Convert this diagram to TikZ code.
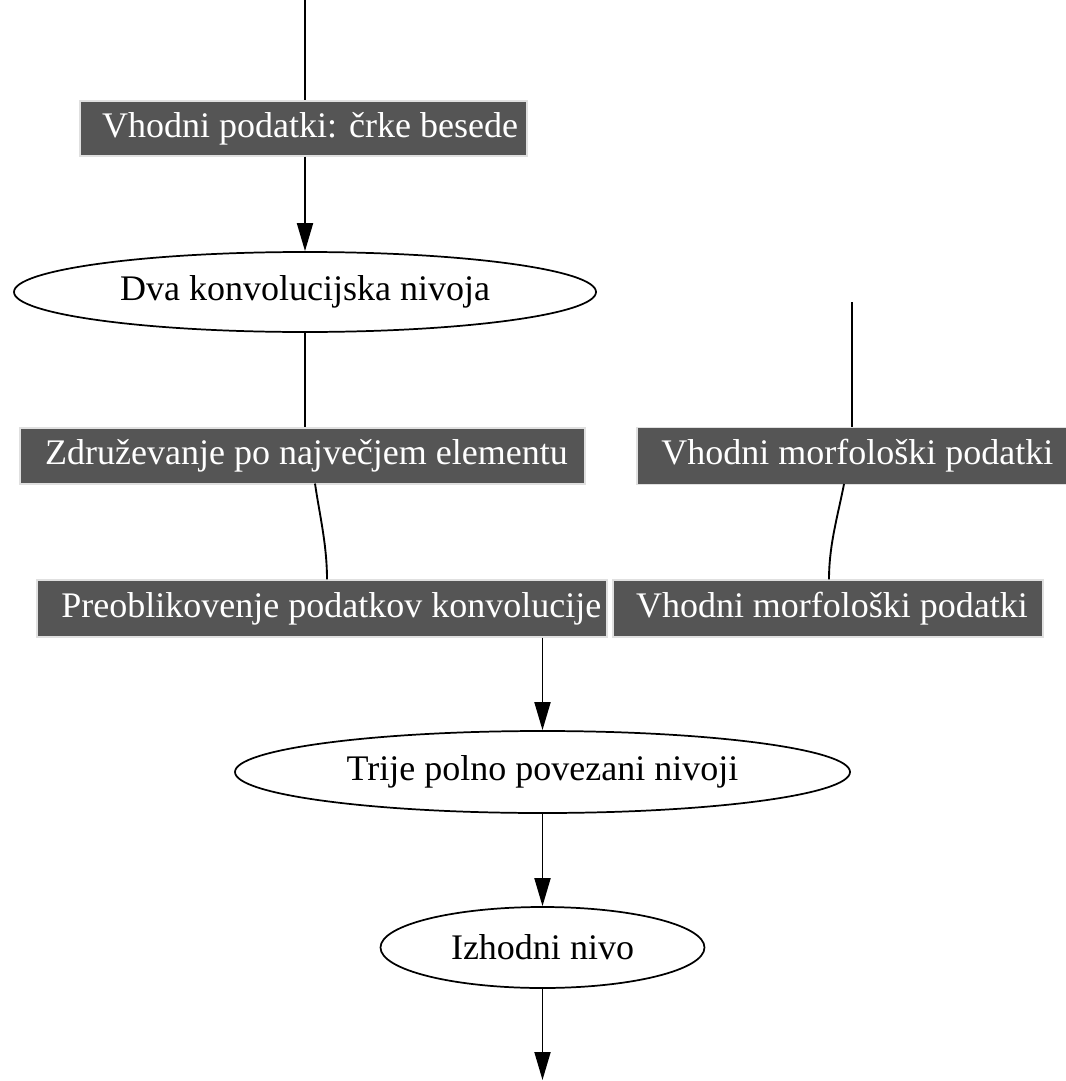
\documentclass[tikz,border=0pt]{standalone}
\usepackage{fontspec}
\setmainfont{Liberation Serif}
\usetikzlibrary{arrows.meta,shapes.geometric,calc}
\tikzset{
  darkbox/.style={rectangle, fill={rgb,255:red,85;green,85;blue,85}, draw=black!12, line width=0.8pt,
    text=white, inner sep=0pt, font=\fontsize{27}{31}\selectfont},
  oval/.style={ellipse, draw=black, line width=1.3pt, fill=white, inner sep=0pt,
    text=black, font=\fontsize{27}{31}\selectfont},
  conn/.style={line width=1.4pt, draw=black},
  arr/.style={conn, -{Triangle[length=21pt,width=12pt]}},
}
\begin{document}
\begin{tikzpicture}[x=0.75pt,y=-0.75pt]
\useasboundingbox (0,0) rectangle (1066,1081);
% nodes
\node[darkbox, minimum width=447*0.75pt, minimum height=55*0.75pt] (b1) at (303.5,128.5) {\hspace*{10pt}Vhodni podatki: črke besede};
\node[oval, minimum width=582*0.75pt, minimum height=80*0.75pt] (e1) at (305,292) {Dva konvolucijska nivoja};
\node[darkbox, minimum width=565*0.75pt, minimum height=56*0.75pt] (b2) at (302.5,456) {\hspace*{6pt}Združevanje po največjem elementu};
\node[darkbox, minimum width=570*0.75pt, minimum height=57*0.75pt] (b3) at (322,608.5) {\hspace*{14pt}Preoblikovenje podatkov konvolucije};
\node[darkbox, minimum width=430*0.75pt, minimum height=57*0.75pt] (b4) at (852,456) {\hspace*{8pt}Vhodni morfološki podatki};
\node[darkbox, minimum width=430*0.75pt, minimum height=57*0.75pt] (b5) at (828,608.5) {\hspace*{6pt}Vhodni morfološki podatki};
\node[oval, minimum width=615*0.75pt, minimum height=82*0.75pt] (e2) at (542.5,772) {Trije polno povezani nivoji};
\node[oval, minimum width=324*0.75pt, minimum height=81*0.75pt] (e3) at (542.5,947.5) {Izhodni nivo};
% free ends
\coordinate (t1) at (305,0);
\coordinate (t2) at (852,302);
\coordinate (out) at (542.5,1080);
% connectors
\draw[conn] (t1) -- (t1 |- b1.north);
\draw[arr] (e1.north |- b1.south) -- (e1.north);
\draw[conn] (e1.south) -- (e1.south |- b2.north);
\draw[conn] ($(b2.south)+(12.5,-1)$) .. controls ($(b2.south)+(17,30)$) and ($(b3.north)+(5,-35)$) .. ($(b3.north)+(5,0)$);
\draw[conn] (t2) -- (t2 |- b4.north);
\draw[conn] ($(b4.south)+(-8,-1)$) .. controls ($(b4.south)+(-14,30)$) and ($(b5.north)+(1,-35)$) .. ($(b5.north)+(1,0)$);
\draw[arr] (e2.north |- b3.south) -- (e2.north);
\draw[arr] (e2.south) -- (e3.north);
\draw[arr] (e3.south) -- (out);
\end{tikzpicture}
\end{document}
